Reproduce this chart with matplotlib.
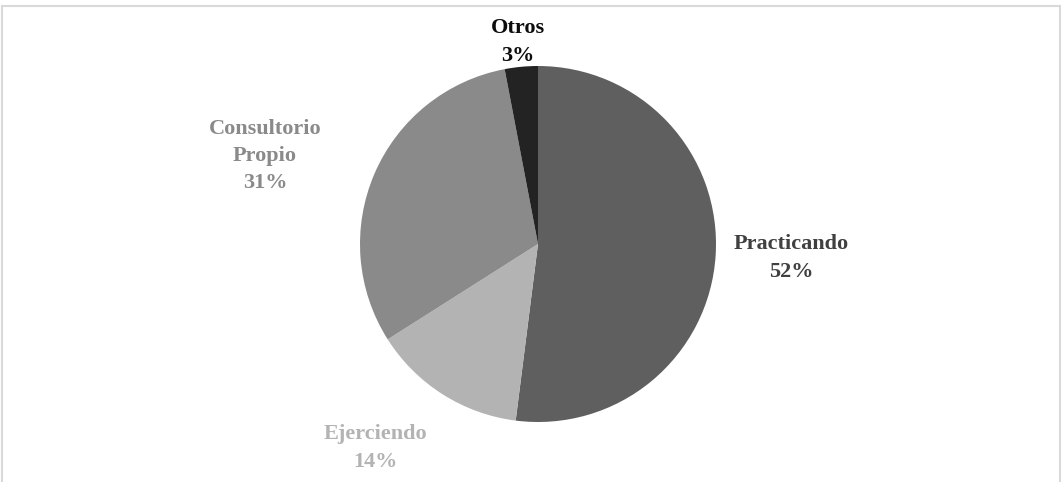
import matplotlib.pyplot as plt
from matplotlib.lines import Line2D

# datos del grafico
categorias = ['Practicando', 'Ejerciendo', 'Consultorio\nPropio', 'Otros']
porcentajes = [52, 14, 31, 3]
colores = ['#5f5f5f', '#b3b3b3', '#8a8a8a', '#232323']
colores_texto = ['#404040', '#b3b3b3', '#8a8a8a', '#0d0d0d']

plt.rcParams['font.family'] = ['Liberation Serif', 'DejaVu Serif']

W, H = 1062, 482
fig = plt.figure(figsize=(W / 100, H / 100), dpi=100)
ax = fig.add_axes([0, 0, 1, 1])

# borde del area del grafico
for xs, ys in [([2, 2], [0, H - 6]), ([2, 1060], [H - 6, H - 6]), ([1060, 1060], [0, H - 6])]:
    fig.add_artist(Line2D([x / W for x in xs], [y / H for y in ys], color='#d9d9d9', lw=1.5))

ax.pie(porcentajes, colors=colores, startangle=90, counterclock=False,
       center=(538, H - 244), radius=178, frame=True,
       wedgeprops=dict(edgecolor='none'))
ax.axis('off')
ax.set_xlim(0, W)
ax.set_ylim(0, H)
ax.set_aspect('equal')

# posiciones de las etiquetas (pixeles)
pos = [(791, 258), (375, 448), (265, 156), (518, 42)]
for cat, p, (x, y), c in zip(categorias, porcentajes, pos, colores_texto):
    ax.text(x, H - y, f'{cat}\n{p}%', ha='center', va='center', fontsize=16,
            fontweight='bold', color=c, linespacing=1.5)

fig.savefig('out.png', dpi=100)
